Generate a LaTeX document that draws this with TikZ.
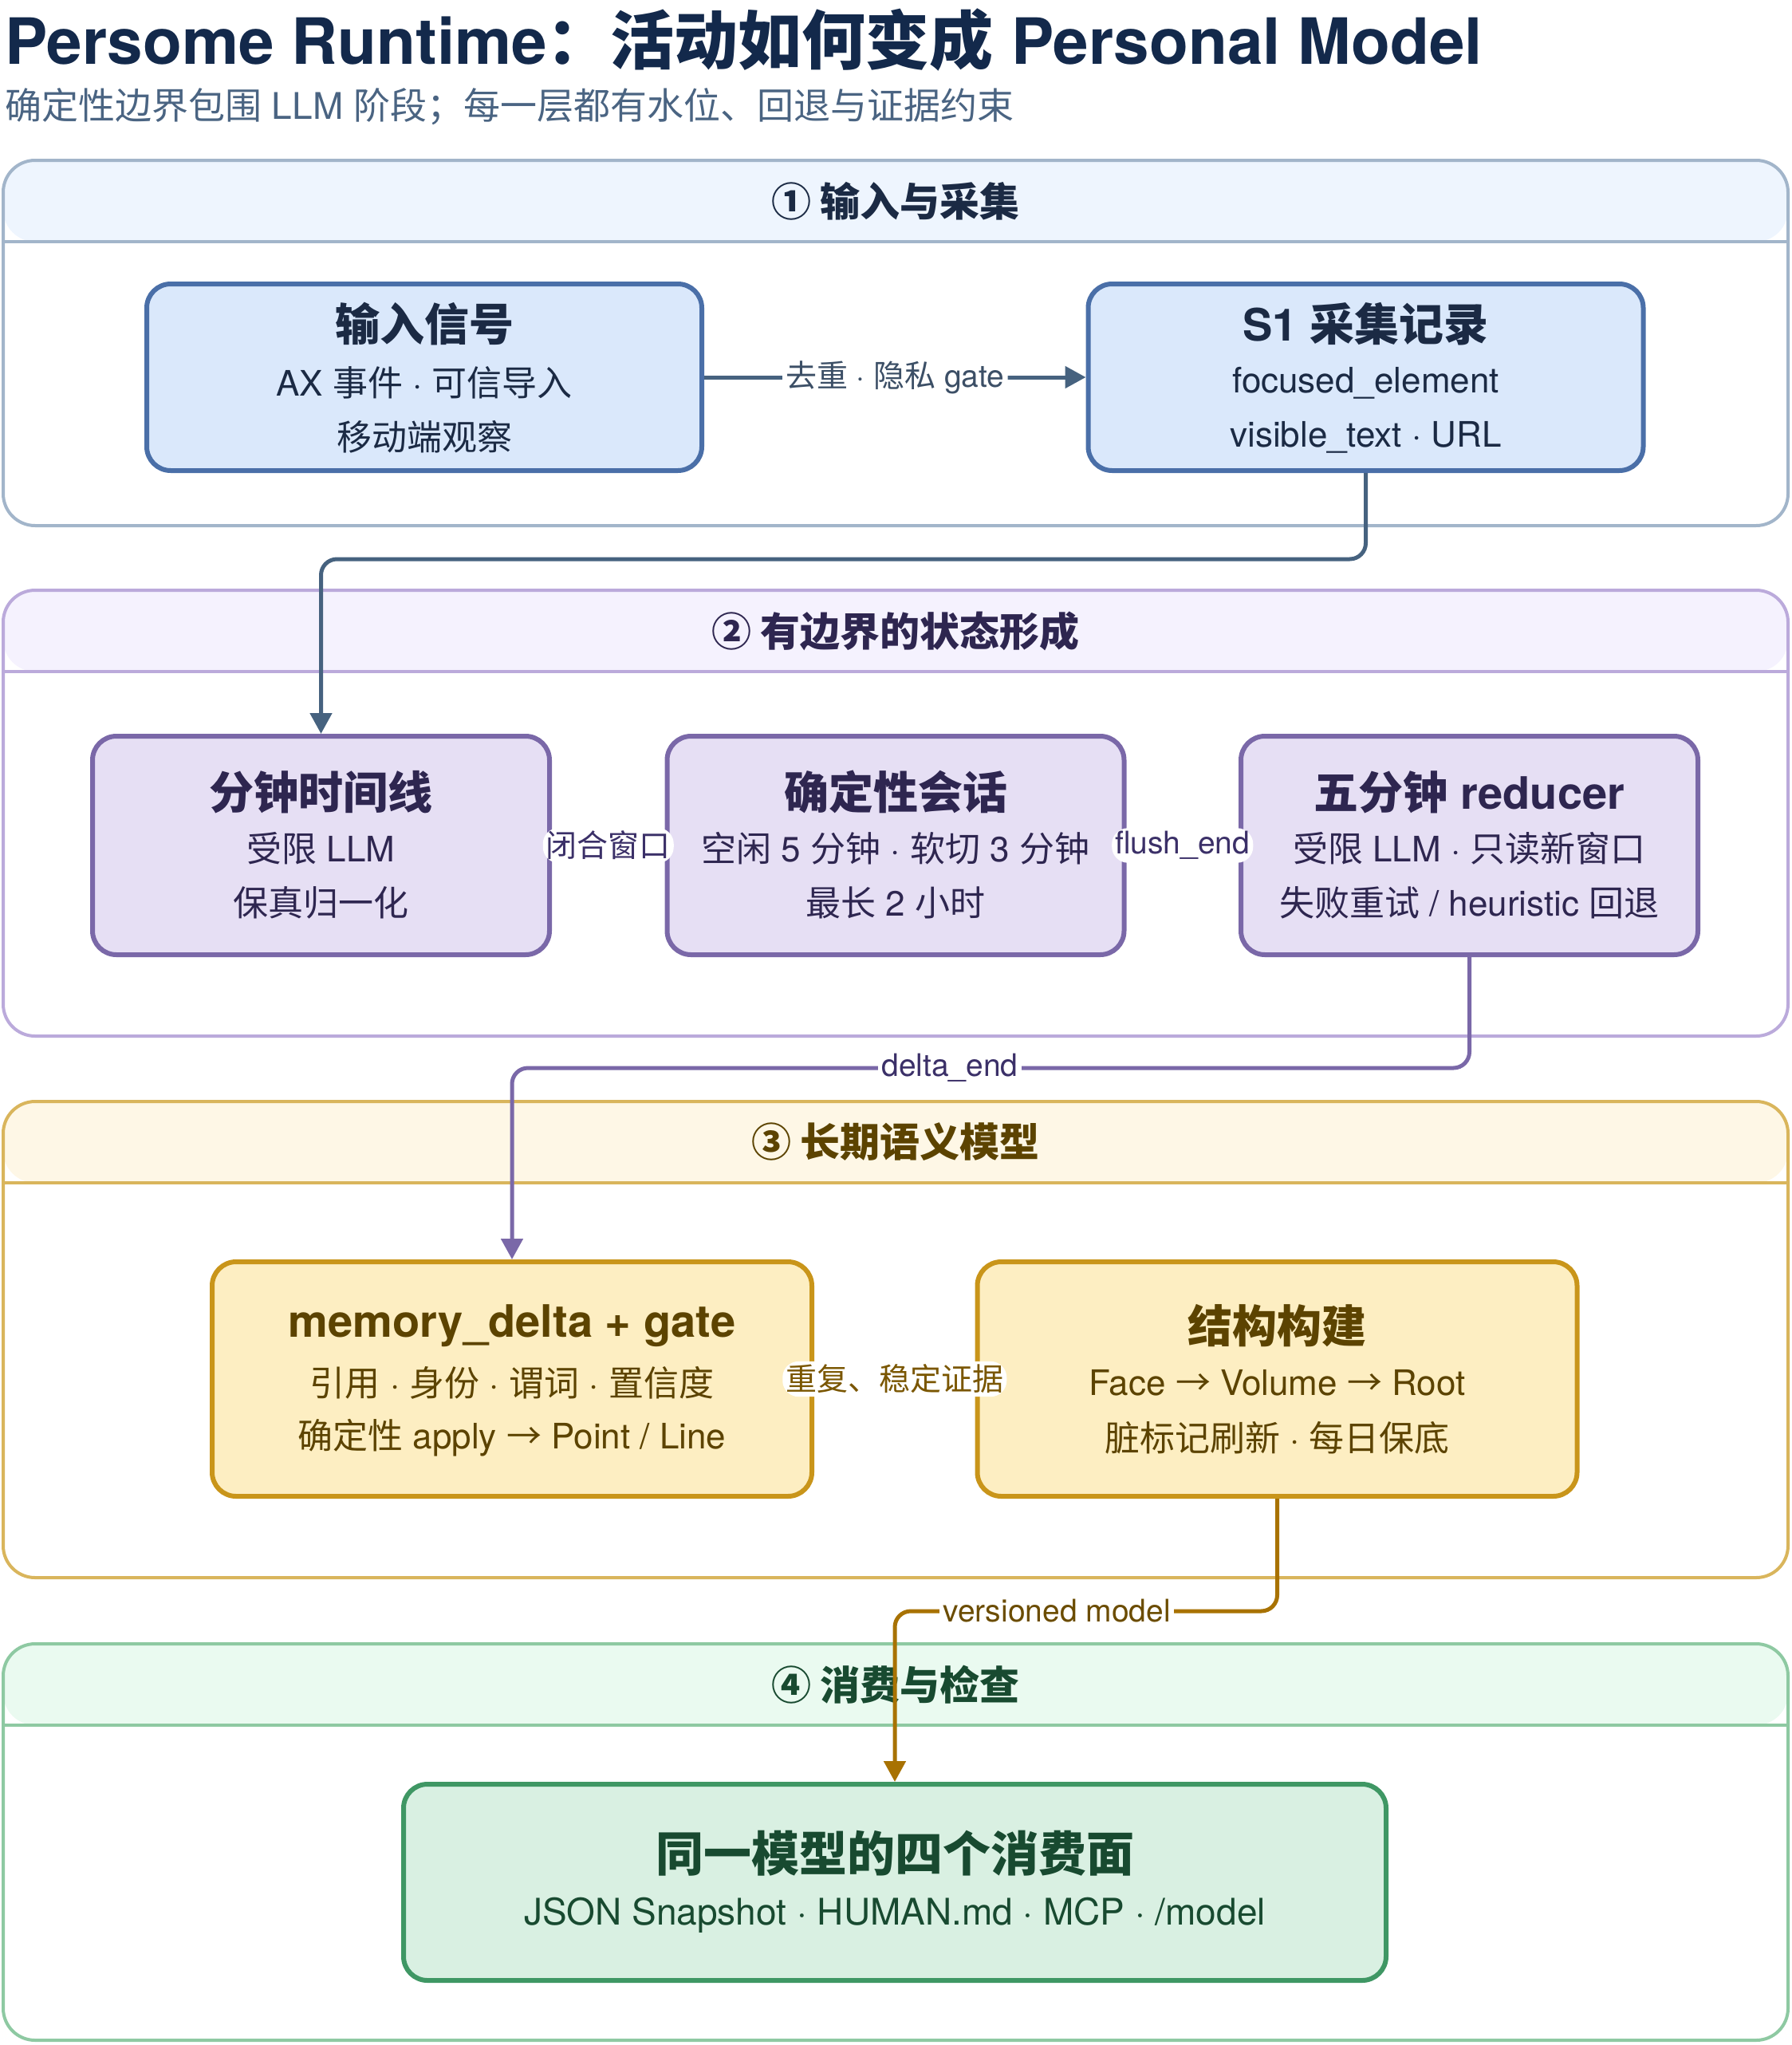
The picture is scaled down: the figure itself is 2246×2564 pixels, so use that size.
\documentclass[tikz,border=0pt]{standalone}
\usepackage{fontspec}
\setmainfont{TeX Gyre Heros}
\newfontfamily\cjkfont{Noto Sans CJK SC}
\newcommand\zh[1]{{\cjkfont #1}}
\newcommand\fs[1]{\fontsize{#1}{#1}\selectfont}
\usetikzlibrary{arrows.meta}
% section colours
\definecolor{sb1}{HTML}{A2B5CA}\definecolor{sh1}{HTML}{EEF5FE}
\definecolor{sb2}{HTML}{BBAADB}\definecolor{sh2}{HTML}{F5F2FE}
\definecolor{sb3}{HTML}{D9B55C}\definecolor{sh3}{HTML}{FEF7E6}
\definecolor{sb4}{HTML}{8EC9A2}\definecolor{sh4}{HTML}{EAFAF0}
% box colours
\definecolor{bb1}{HTML}{4A6FA8}\definecolor{bf1}{HTML}{DAE8FB}\definecolor{tx1}{HTML}{1B2A44}
\definecolor{bb2}{HTML}{7A68A8}\definecolor{bf2}{HTML}{E6DFF4}\definecolor{tx2}{HTML}{2E2650}
\definecolor{bb3}{HTML}{C9951A}\definecolor{bf3}{HTML}{FDEEC2}\definecolor{tx3}{HTML}{5C4300}
\definecolor{bb4}{HTML}{3F9764}\definecolor{bf4}{HTML}{D9F0E2}\definecolor{tx4}{HTML}{184A30}
% connectors and labels
\definecolor{cn1}{HTML}{46627F}\definecolor{lb1}{HTML}{3C4F66}
\definecolor{cn2}{HTML}{7A68A8}\definecolor{lb2}{HTML}{3B3068}
\definecolor{cn3}{HTML}{A87202}\definecolor{lb3}{HTML}{7A5600}\definecolor{lb4}{HTML}{6B4C00}
\definecolor{titlec}{HTML}{13294B}\definecolor{subc}{HTML}{4A6482}
\begin{document}
\begin{tikzpicture}[x=1pt,y=-1pt,
  secbox/.style n args={2}{draw=#1, line width=4pt, rounded corners=40pt,
    minimum width=2238pt, inner sep=0pt,
    path picture={
      \fill[#2] (path picture bounding box.north west) rectangle ([yshift=-102pt]path picture bounding box.north east);
      \draw[#1,line width=4pt] ([yshift=-102pt]path picture bounding box.north west) -- ([yshift=-102pt]path picture bounding box.north east);
    }},
  sechead/.style={font=\fs{50}\bfseries, inner sep=0pt},
  box/.style n args={2}{draw=#1, fill=#2, line width=6pt, rounded corners=30pt, inner sep=0pt},
  btitle/.style={font=\fs{56}\bfseries, inner sep=0pt},
  bline/.style={font=\fs{44}, inner sep=0pt},
  conn/.style={line width=5pt, rounded corners=20pt, -{Triangle[length=26pt,width=27pt]}},
  lbl/.style={fill=white, inner sep=4pt, font=\fs{39}}
]
\useasboundingbox (0,0) rectangle (2246,2564);

% title
\node[anchor=west, inner sep=0pt, text=titlec, font=\fs{80}\bfseries] (title) at (6,50)
  {Persome Runtime\zh{：活动如何变成} Personal Model};
\node[anchor=west, inner sep=0pt, text=subc, font=\fs{46}] (subtitle) at (6,134)
  {\zh{确定性边界包围} LLM \zh{阶段；每一层都有水位、回退与证据约束}};

% sections
\node[secbox={sb1}{sh1}, minimum height=458pt] (sec1) at (1123,430) {};
\node[sechead, text=tx1] (h1) at (1123,252) {\zh{① 输入与采集}};
\node[secbox={sb2}{sh2}, minimum height=559pt] (sec2) at (1123,1019.5) {};
\node[sechead, text=tx2] (h2) at (1123,791) {\zh{② 有边界的状态形成}};
\node[secbox={sb3}{sh3}, minimum height=597pt] (sec3) at (1123,1679.5) {};
\node[sechead, text=tx3] (h3) at (1123,1432) {\zh{③ 长期语义模型}};
\node[secbox={sb4}{sh4}, minimum height=497pt] (sec4) at (1123,2309.5) {};
\node[sechead, text=tx4] (h4) at (1123,2112) {\zh{④ 消费与检查}};

% row 1
\node[box={bb1}{bf1}, minimum width=696pt, minimum height=234pt] (in) at (532,473) {};
\node[btitle, text=tx1] (inA) at ([yshift=67pt]in.center) {\zh{输入信号}};
\node[bline, text=tx1] (inB) at ([yshift=-7pt]in.center) {AX \zh{事件} · \zh{可信导入}};
\node[bline, text=tx1] (inC) at ([yshift=-75pt]in.center) {\zh{移动端观察}};

\node[box={bb1}{bf1}, minimum width=696pt, minimum height=234pt] (s1) at (1712.5,473) {};
\node[btitle, text=tx1] (s1A) at ([yshift=67pt]s1.center) {S1 \zh{采集记录}};
\node[bline, text=tx1] (s1B) at ([yshift=-7pt]s1.center) {focused\_element};
\node[bline, text=tx1] (s1C) at ([yshift=-75pt]s1.center) {visible\_text · URL};

% row 2
\node[box={bb2}{bf2}, minimum width=573pt, minimum height=274pt] (tl) at (402.5,1060) {};
\node[btitle, text=tx2] (tlA) at ([yshift=67pt]tl.center) {\zh{分钟时间线}};
\node[bline, text=tx2] (tlB) at ([yshift=-4pt]tl.center) {\zh{受限} LLM};
\node[bline, text=tx2] (tlC) at ([yshift=-72pt]tl.center) {\zh{保真归一化}};

\node[box={bb2}{bf2}, minimum width=573pt, minimum height=274pt] (ses) at (1123,1060) {};
\node[btitle, text=tx2] (sesA) at ([yshift=67pt]ses.center) {\zh{确定性会话}};
\node[bline, text=tx2] (sesB) at ([yshift=-4pt]ses.center) {\zh{空闲} 5 \zh{分钟} · \zh{软切} 3 \zh{分钟}};
\node[bline, text=tx2] (sesC) at ([yshift=-72pt]ses.center) {\zh{最长} 2 \zh{小时}};

\node[box={bb2}{bf2}, minimum width=573pt, minimum height=274pt] (red) at (1842.5,1060) {};
\node[btitle, text=tx2] (redA) at ([yshift=67pt]red.center) {\zh{五分钟} reducer};
\node[bline, text=tx2] (redB) at ([yshift=-4pt]red.center) {\zh{受限} LLM · \zh{只读新窗口}};
\node[bline, text=tx2] (redC) at ([yshift=-72pt]red.center) {\zh{失败重试} / heuristic \zh{回退}};

% row 3
\node[box={bb3}{bf3}, minimum width=752pt, minimum height=294pt] (md) at (642,1729) {};
\node[btitle, text=tx3] (mdA) at ([yshift=67pt]md.center) {memory\_delta + gate};
\node[bline, text=tx3] (mdB) at ([yshift=-5pt]md.center) {\zh{引用} · \zh{身份} · \zh{谓词} · \zh{置信度}};
\node[bline, text=tx3] (mdC) at ([yshift=-74pt]md.center) {\zh{确定性} apply \zh{→} Point / Line};

\node[box={bb3}{bf3}, minimum width=752pt, minimum height=294pt] (st) at (1601.5,1729) {};
\node[btitle, text=tx3] (stA) at ([yshift=67pt]st.center) {\zh{结构构建}};
\node[bline, text=tx3] (stB) at ([yshift=-5pt]st.center) {Face \zh{→} Volume \zh{→} Root};
\node[bline, text=tx3] (stC) at ([yshift=-74pt]st.center) {\zh{脏标记刷新} · \zh{每日保底}};

% row 4
\node[box={bb4}{bf4}, minimum width=1232pt, minimum height=246pt] (cons) at (1122,2360) {};
\node[font=\fs{60}\bfseries, inner sep=0pt, text=tx4] (consA) at ([yshift=36pt]cons.center) {\zh{同一模型的四个消费面}};
\node[font=\fs{46}, inner sep=0pt, text=tx4] (consB) at ([yshift=-41pt]cons.center) {JSON Snapshot · HUMAN.md · MCP · /model};

% connectors
\draw[conn, cn1] (in.east) -- node[lbl, text=lb1] (e1) {\zh{去重} · \zh{隐私} gate} (s1.west);
\draw[conn, cn1] (s1.south) -- ++(0,108) -| (tl.north);
\draw[conn, cn2] (tl.east) -- node[lbl, text=lb2] (e2) {\zh{闭合窗口}} (ses.west);
\draw[conn, cn2] (ses.east) -- node[lbl, text=lb2] (e3) {flush\_end} (red.west);
\draw[conn, cn2] (red.south) -- ++(0,139) -| (md.north);
\node[lbl, text=lb2] (e4) at (1191,1339) {delta\_end};
\draw[conn, cn3] (md.east) -- node[lbl, text=lb3] (e5) {\zh{重复、稳定证据}} (st.west);
\draw[conn, cn3] (st.south) -- ++(0,141) -| (cons.north);
\node[lbl, text=lb4] (e6) at (1325,2020) {versioned model};
\end{tikzpicture}
\end{document}
